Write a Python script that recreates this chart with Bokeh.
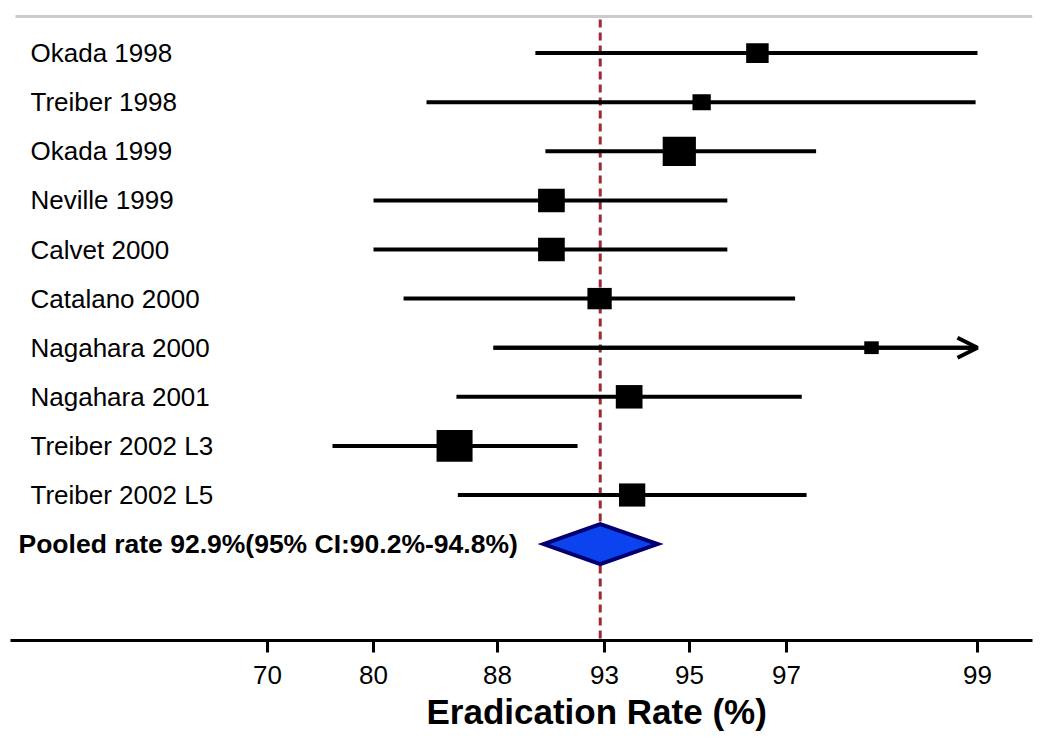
import numpy as np
from bokeh.plotting import figure
from bokeh.models import Range1d, FixedTicker, Title, Arrow, OpenHead, ColumnDataSource
from bokeh.core.properties import value
from bokeh.embed import file_html
from bokeh.resources import INLINE

# ---------------- data ----------------
studies = ["Okada 1998", "Treiber 1998", "Okada 1999", "Neville 1999", "Calvet 2000",
           "Catalano 2000", "Nagahara 2000", "Nagahara 2001", "Treiber 2002 L3",
           "Treiber 2002 L5"]
rate = [96.40, 95.25, 94.76, 90.52, 90.52, 92.77, 97.89, 93.58, 85.23, 93.65]
ci_low = [89.77, 83.42, 90.24, 80.00, 80.00, 81.94, 87.74, 85.35, 76.13, 85.44]
ci_high = [99.00, 98.98, 97.31, 95.78, 95.78, 97.09, 99.00, 97.16, 91.74, 97.21]
ci_truncated = [False, False, False, False, False, False, True, False, False, False]
weight = [22.5, 18.3, 33.2, 26.7, 26.7, 24.3, 14.5, 26.7, 36.0, 26.3]

pooled_text = "Pooled rate 92.9%(95% CI:90.2%-94.8%)"
pooled_rate = 92.8
pooled_low = 90.15
pooled_high = 94.25

tick_rates = [70, 80, 88, 93, 95, 97, 99]
tick_labels = ["70", "80", "88", "93", "95", "97", "99"]
x_title = "Eradication Rate (%)"

# ---------------- axis scale (non-linear rate axis) ----------------
scale_anchor = [267, 373, 497, 604, 689, 786, 977]   # display units of each tick


def to_disp(v):
    return np.interp(np.asarray(v, dtype=float), tick_rates, scale_anchor)


# vertical layout: one row per study, then pooled row
W, H = 1042, 743
FRAME_L, FRAME_R = 10, 1032
ROW_PX = 49.1
FRAME_TOP_PX, FRAME_BOT_PX, ROW0_PX = 14.0, 640.0, 52.6
y_top = -(ROW0_PX - FRAME_TOP_PX) / ROW_PX
y_bot = y_top + (FRAME_BOT_PX - FRAME_TOP_PX) / ROW_PX


def y_at(px):
    return y_top + (px - FRAME_TOP_PX) / ROW_PX


rows = list(range(len(studies)))
pooled_row = len(studies)

p = figure(width=W, height=H,
           x_range=Range1d(FRAME_L, FRAME_R), y_range=Range1d(y_bot, y_top),
           output_backend="svg", toolbar_location=None, y_axis_location=None,
           min_border_left=FRAME_L, min_border_right=W - FRAME_R,
           min_border_top=int(FRAME_TOP_PX), min_border_bottom=int(H - FRAME_BOT_PX))
p.outline_line_color = None
p.grid.visible = False
p.background_fill_color = "white"
p.border_fill_color = "white"

FONT = "Liberation Sans"

# top grey rule
p.segment(x0=[FRAME_L + 5], x1=[FRAME_R], y0=[y_at(16)], y1=[y_at(16)],
          line_color="#cccccc", line_width=3)

# dashed reference line at pooled estimate
px_pool = float(to_disp(pooled_rate))
p.segment(x0=[px_pool], x1=[px_pool], y0=[y_at(19)], y1=[y_bot],
          line_color="#9c2a32", line_width=3, line_dash="8 5")

# confidence intervals
src = ColumnDataSource(dict(
    y=rows,
    lo=to_disp(ci_low),
    hi=to_disp(ci_high),
    pt=to_disp(rate),
    w=weight,
    h=[w * 0.88 for w in weight],
    name=studies,
))
p.segment(x0="lo", x1="hi", y0="y", y1="y", source=src,
          line_color="black", line_width=4)

# truncated CI -> open arrow head
for i, tr in enumerate(ci_truncated):
    if tr:
        p.add_layout(Arrow(end=OpenHead(size=20, line_width=4, line_color="black"),
                           x_start=float(to_disp(ci_low[i])), y_start=rows[i],
                           x_end=float(to_disp(ci_high[i])), y_end=rows[i],
                           line_width=4, line_color="black"))

# weight boxes
p.rect(x="pt", y="y", width="w", height="h", width_units="screen",
       height_units="screen", source=src, fill_color="black", line_color=None)

# study labels
p.text(x=[30] * len(studies), y=rows, text=studies, text_align="left",
       text_baseline="middle", text_font=value(FONT), text_font_size="26px",
       text_color="black")

# pooled diamond
half_h = 20.0 / ROW_PX
dx = [float(to_disp(pooled_low)), px_pool, float(to_disp(pooled_high)), px_pool]
dy = [pooled_row, pooled_row - half_h, pooled_row, pooled_row + half_h]
p.patch(dx, dy, fill_color="#0b44ee", line_color="#000070", line_width=4,
        line_join="miter")

p.text(x=[18], y=[pooled_row], text=[pooled_text], text_align="left",
       text_baseline="middle", text_font=value(FONT), text_font_size="26.5px",
       text_font_style="bold", text_color="black")

# x axis
ax = p.xaxis[0]
ax.ticker = FixedTicker(ticks=scale_anchor, minor_ticks=[])
ax.major_label_overrides = {float(a): lab for a, lab in zip(scale_anchor, tick_labels)}
ax.axis_line_color = "black"
ax.axis_line_width = 3
ax.major_tick_line_color = "black"
ax.major_tick_line_width = 3
ax.major_tick_out = 12
ax.major_tick_in = 0
ax.minor_tick_line_color = None
ax.major_label_text_font = FONT
ax.major_label_text_font_size = "26px"
ax.major_label_text_color = "black"
ax.major_label_standoff = 13

# axis title (centred under the 93 tick, as in the source)
p.add_layout(Title(text=x_title, align="left", offset=416, standoff=10,
                   vertical_align="top", text_font=FONT, text_font_size="35px",
                   text_font_style="bold", text_color="black"), "below")

open("out.html", "w").write(file_html(p, INLINE))
